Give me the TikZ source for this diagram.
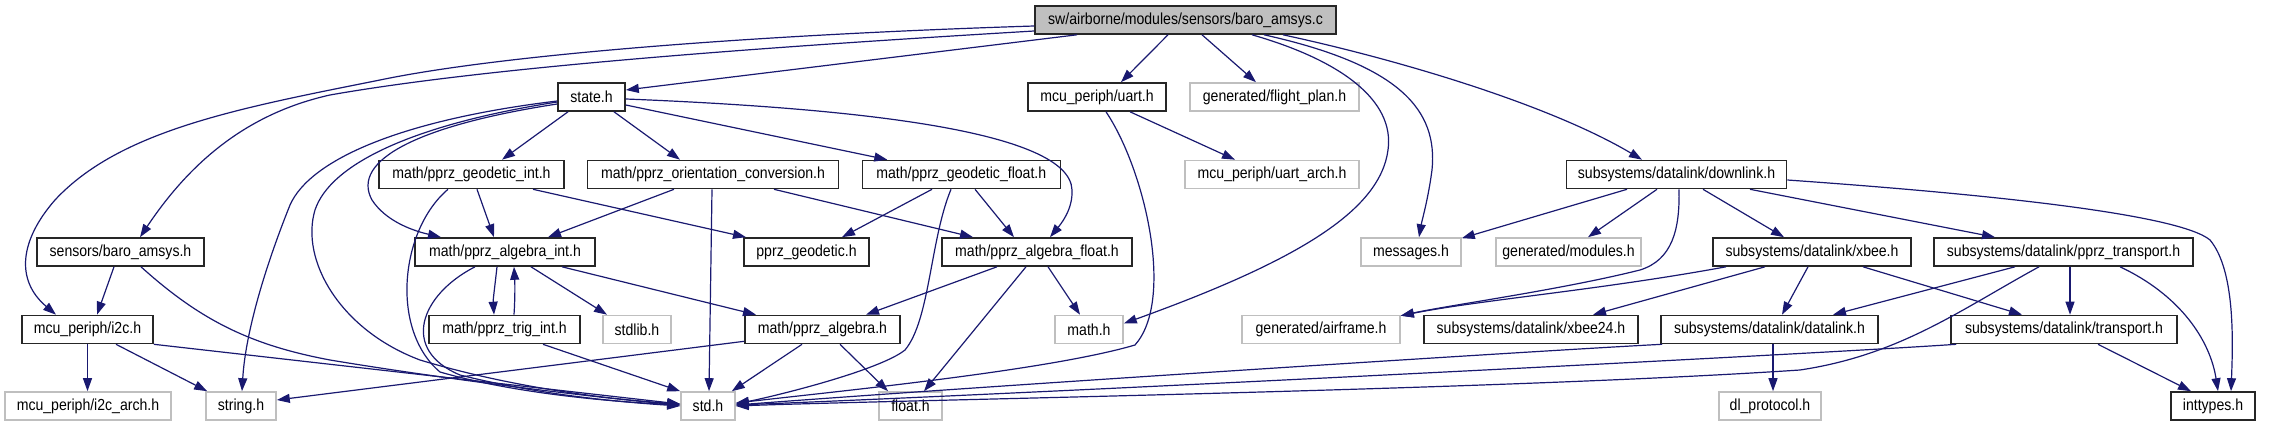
\documentclass[tikz,border=0pt]{standalone}
\usepackage{fontspec}
\setmainfont{Liberation Sans}[FakeStretch=0.88]
\usetikzlibrary{arrows.meta,calc}
\definecolor{edgec}{HTML}{191970}
\definecolor{lgray}{HTML}{BFBFBF}
\begin{document}
\begin{tikzpicture}[x=0.5pt,y=-0.5pt,
 nb/.style={draw=black!85, fill=white, line width=0.8pt, minimum height=14pt, inner sep=0pt, font=\fontsize{8}{9}\selectfont, text=black},
 gb/.style={nb, draw=lgray},
 e/.style={draw=edgec, line width=0.6pt, -{Triangle[length=6.5pt,width=4.5pt]}}]
\useasboundingbox (0,0) rectangle (2269,427);
% row 0
\node[nb, fill=lgray, minimum width=150.5pt] (c) at (1185.5,20) {sw/airborne/modules/sensors/baro\_amsys.c};
% row 1
\node[nb, minimum width=33.5pt] (state) at (591.5,97) {state.h};
\node[nb, minimum width=69pt] (uart) at (1097,97) {mcu\_periph/uart.h};
\node[gb, minimum width=84.5pt] (flightplan) at (1274.5,97) {generated/flight\_plan.h};
% row 2
\node[nb, minimum width=92.5pt] (geoint) at (471.5,174.5) {math/pprz\_geodetic\_int.h};
\node[nb, minimum width=125.5pt] (orient) at (713,174.5) {math/pprz\_orientation\_conversion.h};
\node[nb, minimum width=99pt] (geofloat) at (961.3,174.5) {math/pprz\_geodetic\_float.h};
\node[gb, minimum width=87pt] (uartarch) at (1272,174.5) {mcu\_periph/uart\_arch.h};
\node[nb, minimum width=110pt] (downlink) at (1676.5,174.5) {subsystems/datalink/downlink.h};
% row 3
\node[nb, minimum width=83.5pt] (baroh) at (120.5,252) {sensors/baro\_amsys.h};
\node[nb, minimum width=90pt] (algint) at (505,252) {math/pprz\_algebra\_int.h};
\node[nb, minimum width=62.5pt] (geodetic) at (806.5,252) {pprz\_geodetic.h};
\node[nb, minimum width=95pt] (algfloat) at (1037,252) {math/pprz\_algebra\_float.h};
\node[gb, minimum width=50pt] (messages) at (1411,252) {messages.h};
\node[gb, minimum width=72.5pt] (modules) at (1568.5,252) {generated/modules.h};
\node[nb, minimum width=99pt] (xbee) at (1812,252) {subsystems/datalink/xbee.h};
\node[nb, minimum width=129.5pt] (pprztr) at (2063.5,252) {subsystems/datalink/pprz\_transport.h};
% row 4
\node[nb, minimum width=65.5pt] (i2c) at (87.5,329.5) {mcu\_periph/i2c.h};
\node[nb, minimum width=75.5pt] (trig) at (504.5,329.5) {math/pprz\_trig\_int.h};
\node[gb, minimum width=34pt] (stdlib) at (637,329.5) {stdlib.h};
\node[nb, minimum width=77.5pt] (alg) at (822.5,329.5) {math/pprz\_algebra.h};
\node[gb, minimum width=34pt] (math) at (1089,329.5) {math.h};
\node[gb, minimum width=79pt] (airframe) at (1321,329.5) {generated/airframe.h};
\node[nb, minimum width=107pt] (xbee24) at (1531,329.5) {subsystems/datalink/xbee24.h};
\node[nb, minimum width=108.5pt] (datalink) at (1769.5,329.5) {subsystems/datalink/datalink.h};
\node[nb, minimum width=113pt] (transport) at (2064,329.5) {subsystems/datalink/transport.h};
% row 5
\node[gb, minimum width=83pt] (i2carch) at (88,406) {mcu\_periph/i2c\_arch.h};
\node[gb, minimum width=35pt] (string) at (241,406) {string.h};
\node[gb, minimum width=27pt] (std) at (708,406) {std.h};
\node[gb, minimum width=31.5pt] (float) at (910.5,406) {float.h};
\node[gb, minimum width=51pt] (dlproto) at (1770,406) {dl\_protocol.h};
\node[nb, minimum width=42pt] (inttypes) at (2213,406) {inttypes.h};

% edges from baro_amsys.c
\draw[e] ($(c.west)+(0,6)$) .. controls (750,35) and (500,55) .. (380,80)
  .. controls (240,108) and (120,130) .. (55,200)
  .. controls (20,240) and (15,280) .. ($(i2c.north)+(-31.5,0)$);
\draw[e] ($(c.west)+(0,11)$) .. controls (800,45) and (500,65) .. (330,95)
  .. controls (240,115) and (185,170) .. ($(baroh.north)+(19.5,0)$);
\draw[e] ($(c.south)+(-108.5,0)$) -- ($(state.east)+(0,-7)$);
\draw[e] ($(c.south)+(-17.5,0)$) -- ($(uart.north)+(24,0)$);
\draw[e] ($(c.south)+(16.5,0)$) -- ($(flightplan.north)+(-18.5,0)$);
\draw[e] ($(c.south)+(66.5,0)$) .. controls (1340,60) and (1395,100) .. (1388,150)
  .. controls (1380,210) and (1300,260) .. ($(math.east)+(0,-6)$);
\draw[e] ($(c.south)+(78.5,0)$) .. controls (1400,65) and (1438,110) .. (1432,170)
  .. controls (1428,200) and (1422,220) .. ($(messages.north)+(8,0)$);
\draw[e] ($(c.south)+(97.5,0)$) .. controls (1400,60) and (1550,105) .. ($(downlink.north)+(-34.5,0)$);

% state.h
\draw[e] ($(state.south)+(-23.5,0)$) -- ($(geoint.north)+(30.5,0)$);
\draw[e] ($(state.south)+(22.5,0)$) -- ($(orient.north)+(-33,0)$);
\draw[e] ($(state.east)+(0,8)$) -- ($(geofloat.north)+(-74,0)$);
\draw[e] ($(state.east)+(0,2)$) .. controls (850,108) and (1070,130) .. (1072,190)
  .. controls (1073,210) and (1060,225) .. ($(algfloat.north)+(13,0)$);
\draw[e] ($(state.west)+(0,7)$) .. controls (420,125) and (350,160) .. (372,200)
  .. controls (385,220) and (410,230) .. ($(algint.north)+(-64,0)$);
\draw[e] ($(state.west)+(0,4)$) .. controls (400,120) and (310,160) .. (290,205)
  .. controls (260,280) and (245,340) .. ($(string.north)+(1,0)$);
\draw[e] ($(state.west)+(0,5)$) .. controls (410,125) and (330,165) .. (315,210)
  .. controls (300,260) and (340,330) .. (420,360)
  .. controls (520,390) and (620,400) .. ($(std.west)+(0,-2)$);

% uart.h
\draw[e] ($(uart.south)+(33,0)$) -- ($(uartarch.north)+(-37,0)$);
\draw[e] ($(uart.south)+(9,0)$) .. controls (1145,170) and (1175,300) .. (1135,345)
  .. controls (1050,370) and (850,390) .. ($(std.east)+(0,-3)$);

% geodetic_int
\draw[e] ($(geoint.south)+(5.5,0)$) -- ($(algint.north)+(-11,0)$);
\draw[e] ($(geoint.south)+(-23.5,0)$) .. controls (400,230) and (390,330) .. (440,372)
  .. controls (520,395) and (620,402) .. ($(std.west)+(0,-1)$);
\draw[e] ($(geoint.south)+(61.5,0)$) -- ($(geodetic.north)+(-60.5,0)$);

% orientation
\draw[e] ($(orient.south)+(-39,0)$) -- ($(algint.north)+(43,0)$);
\draw[e] ($(orient.south)+(-1,0)$) -- ($(std.north)+(1,0)$);
\draw[e] ($(orient.south)+(61,0)$) -- ($(algfloat.north)+(-64,0)$);

% geodetic_float
\draw[e] ($(geofloat.south)+(-29.3,0)$) -- ($(geodetic.north)+(35.5,0)$);
\draw[e] ($(geofloat.south)+(13.7,0)$) -- ($(algfloat.north)+(-23,0)$);
\draw[e] ($(geofloat.south)+(-10.3,0)$) .. controls (930,240) and (930,320) .. (905,350)
  .. controls (880,370) and (780,395) .. ($(std.east)+(0,-2)$);

% algebra_int
\draw[e] ($(algint.south)+(-8,0)$) .. controls (495,285) and (493,300) .. ($(trig.north)+(-10.5,0)$);
\draw[e] ($(trig.north)+(9.5,0)$) .. controls (515,300) and (515,285) .. ($(algint.south)+(9,0)$);
\draw[e] ($(algint.south)+(26,0)$) -- ($(stdlib.north)+(-30,0)$);
\draw[e] ($(algint.south)+(57,0)$) -- ($(alg.north)+(-66.5,0)$);
\draw[e] ($(algint.south)+(-30,0)$) .. controls (420,295) and (400,350) .. (460,375)
  .. controls (540,395) and (620,402) .. ($(std.west)+(0,0)$);

% trig
\draw[e] ($(trig.south)+(38.5,0)$) -- (std.north west);

% sensors/baro_amsys.h
\draw[e] ($(baroh.south)+(-6.5,0)$) -- ($(i2c.north)+(9.5,0)$);
\draw[e] ($(baroh.south)+(20.5,0)$) .. controls (200,320) and (250,345) .. (330,360)
  .. controls (450,380) and (600,398) .. ($(std.west)+(0,-1)$);

% i2c
\draw[e] ($(i2c.south)+(0,0)$) -- ($(i2carch.north)+(-0.5,0)$);
\draw[e] ($(i2c.south)+(28.5,0)$) -- ($(string.north west)+(2,0)$);
\draw[e] (i2c.south east) -- ($(std.west)+(0,-2)$);

% algebra_float
\draw[e] ($(algfloat.south)+(-40,0)$) -- ($(alg.north)+(43.5,0)$);
\draw[e] ($(algfloat.south)+(-11,0)$) -- ($(float.north)+(13.5,0)$);
\draw[e] ($(algfloat.south)+(11,0)$) -- ($(math.north)+(-9,0)$);

% algebra
\draw[e] ($(alg.south west)+(0,-3)$) -- ($(string.east)+(0,-6)$);
\draw[e] ($(alg.south)+(-20.5,0)$) -- ($(std.north east)+(-4,0)$);
\draw[e] ($(alg.south)+(17.5,0)$) -- ($(float.north)+(-22.5,0)$);

% downlink
\draw[e] ($(downlink.south)+(-49.5,0)$) -- ($(messages.north east)+(0,1)$);
\draw[e] ($(downlink.south)+(-19.5,0)$) -- ($(modules.north)+(19.5,0)$);
\draw[e] ($(downlink.south)+(2.5,0)$) .. controls (1680,230) and (1672,260) .. (1640,270)
  .. controls (1560,290) and (1450,305) .. ($(airframe.north east)+(0,1)$);
\draw[e] ($(downlink.south)+(26.5,0)$) -- ($(xbee.north)+(-28,0)$);
\draw[e] ($(downlink.south)+(73.5,0)$) -- ($(pprztr.north)+(-68.5,0)$);
\draw[e] ($(downlink.east)+(0,5.5)$) .. controls (2000,195) and (2180,215) .. (2210,240)
  .. controls (2235,270) and (2233,340) .. ($(inttypes.north)+(18,0)$);

% xbee
\draw[e] ($(xbee.south)+(-86,0)$) .. controls (1600,290) and (1480,300) .. ($(airframe.north east)+(0,1)$);
\draw[e] ($(xbee.south)+(-47,0)$) -- ($(xbee24.north)+(62,0)$);
\draw[e] ($(xbee.south)+(-4,0)$) -- ($(datalink.north)+(12.5,0)$);
\draw[e] ($(xbee.south)+(51,0)$) -- ($(transport.north)+(-42,0)$);

% pprz_transport
\draw[e] ($(pprztr.south)+(-48.5,0)$) -- ($(datalink.north)+(63.5,0)$);
\draw[e] ($(pprztr.south)+(6.5,0)$) -- ($(transport.north)+(6,0)$);
\draw[e] ($(pprztr.south)+(56.5,0)$) .. controls (2180,295) and (2210,340) .. ($(inttypes.north)+(5,0)$);
\draw[e] ($(pprztr.south)+(-24.5,0)$) .. controls (1960,310) and (1900,355) .. (1800,370)
  .. controls (1500,390) and (900,400) .. ($(std.east)+(0,0)$);

% datalink
\draw[e] ($(datalink.south)+(3.5,0)$) -- ($(dlproto.north)+(3,0)$);
\draw[e] ($(datalink.south west)+(2,0)$) .. controls (1550,350) and (1000,385) .. ($(std.east)+(0,-1)$);

% transport
\draw[e] ($(transport.south)+(34,0)$) -- ($(inttypes.north)+(-22,0)$);
\draw[e] ($(transport.south west)+(6,0)$) .. controls (1800,355) and (1000,395) .. ($(std.east)+(0,-1)$);
\end{tikzpicture}
\end{document}
